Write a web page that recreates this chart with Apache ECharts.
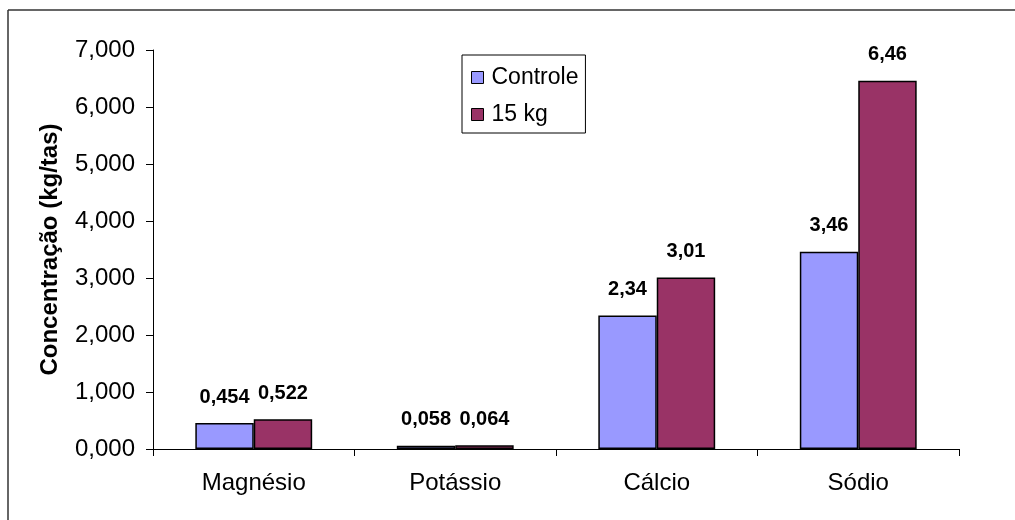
<!DOCTYPE html>
<html>
<head>
<meta charset="utf-8">
<script src="https://cdn.jsdelivr.net/npm/echarts@6/dist/echarts.min.js"></script>
<style>html,body{margin:0;padding:0;background:#fff;}#c{width:1015px;height:520px;}</style>
</head>
<body>
<div id="c"></div>
<script>
var categories = ['Magnésio', 'Potássio', 'Cálcio', 'Sódio'];
var seriesNames = ['Controle', '15 kg'];
var controle = [0.454, 0.058, 2.34, 3.46];
var kg15 = [0.522, 0.064, 3.01, 6.46];
var controleLabels = ['0,454', '0,058', '2,34', '3,46'];
var kg15Labels = ['0,522', '0,064', '3,01', '6,46'];
var yTicks = [0, 1, 2, 3, 4, 5, 6, 7];

var FONT = '"Liberation Sans", Arial, sans-serif';
var chart = echarts.init(document.getElementById('c'), null, {renderer: 'canvas'});

function labelCfg(arr) {
  return {
    show: true, position: 'top', distance: 16,
    fontFamily: FONT, fontSize: 20, fontWeight: 'bold', color: '#000',
    formatter: function (p) { return arr[p.dataIndex]; }
  };
}

chart.setOption({
  animation: false,
  backgroundColor: '#fff',
  textStyle: {fontFamily: FONT},
  graphic: [
    {type: 'line', shape: {x1: 8, y1: 10, x2: 1015, y2: 10}, style: {stroke: '#333', lineWidth: 1.5}},
    {type: 'line', shape: {x1: 8, y1: 10, x2: 8, y2: 520}, style: {stroke: '#333', lineWidth: 1.5}}
  ],
  grid: {left: 153, right: 56, top: 50, bottom: 71, containLabel: false},
  legend: {
    orient: 'vertical', left: 462, top: 55,
    data: seriesNames,
    borderColor: '#000', borderWidth: 1, borderRadius: 0,
    padding: [11, 7, 7, 9],
    itemWidth: 12, itemHeight: 12, itemGap: 14,
    icon: 'rect',
    itemStyle: {borderColor: '#000', borderWidth: 1},
    textStyle: {fontFamily: FONT, fontSize: 23, color: '#000', padding: [0, 0, 0, 3]}
  },
  xAxis: {
    type: 'category', data: categories,
    axisLine: {lineStyle: {color: '#000', width: 1}},
    axisTick: {show: true, length: 7, alignWithLabel: false, lineStyle: {color: '#000'}},
    axisLabel: {fontFamily: FONT, fontSize: 24, color: '#000', margin: 22}
  },
  yAxis: {
    type: 'value', min: yTicks[0], max: yTicks[yTicks.length - 1], interval: 1,
    name: 'Concentração (kg/tas)', nameLocation: 'middle', nameGap: 91, nameRotate: 90,
    nameTextStyle: {fontFamily: FONT, fontSize: 24, fontWeight: 'bold', color: '#000'},
    axisLine: {show: true, lineStyle: {color: '#000', width: 1}},
    axisTick: {show: true, length: 7, lineStyle: {color: '#000'}},
    splitLine: {show: false},
    axisLabel: {
      fontFamily: FONT, fontSize: 24, color: '#000', margin: 18,
      formatter: function (v) { return v.toFixed(3).replace('.', ','); }
    }
  },
  series: [
    {
      name: seriesNames[0], type: 'bar', data: controle,
      barGap: '0%', barCategoryGap: '42%',
      itemStyle: {color: '#9999FF', borderColor: '#000', borderWidth: 1.5},
      label: labelCfg(controleLabels)
    },
    {
      name: seriesNames[1], type: 'bar', data: kg15,
      barGap: '0%', barCategoryGap: '42%',
      itemStyle: {color: '#993366', borderColor: '#000', borderWidth: 1.5},
      label: labelCfg(kg15Labels)
    }
  ]
});
</script>
</body>
</html>
